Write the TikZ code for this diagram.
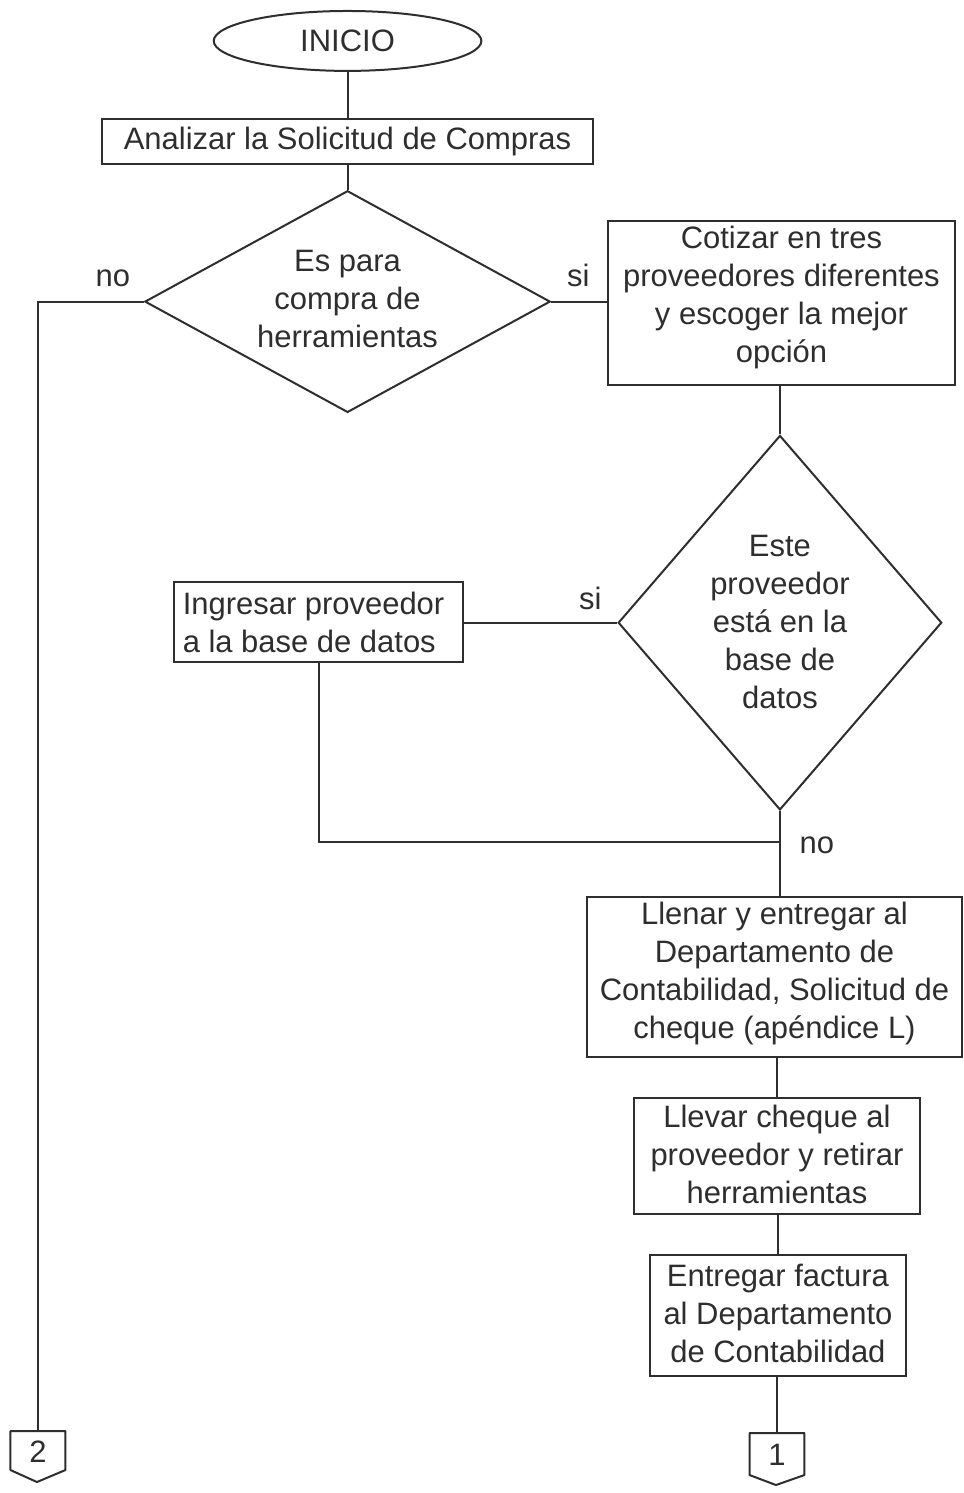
\documentclass[tikz,border=0pt]{standalone}
\usepackage{fontspec}
\setmainfont{Liberation Sans}
\usetikzlibrary{shapes.geometric}
\definecolor{ink}{HTML}{2E2E2E}
\begin{document}
\begin{tikzpicture}[x=1pt,y=-1pt,line width=2pt,
  every node/.style={text=ink,font=\fontsize{31}{38}\selectfont},
  every path/.style={draw=ink},
  box/.style={draw=ink,rectangle,inner sep=0pt,align=center},
  dia/.style={draw=ink,diamond,inner sep=0pt},
  txt/.style={align=center,inner sep=0pt},
  lbl/.style={inner sep=0pt},
  conn/.style={inner sep=0pt,minimum width=53pt}]
\useasboundingbox (0,0) rectangle (963,1493);
\fill[white] (0,0) rectangle (963,1493);
% nodes
\node[ellipse,draw=ink,inner sep=0pt,minimum width=268pt,minimum height=60pt] (inicio) at (347,40) {INICIO};
\node[box,minimum width=491pt,minimum height=45pt] (analizar) at (347,140.5) {Analizar la Solicitud de Compras};
\node[dia,minimum width=406pt,minimum height=222pt] (d1) at (347,301) {};
\node[txt] (d1t) at (347,298) {Es para\\compra de\\herramientas};
\node[box,minimum width=347pt,minimum height=165pt] (cotizar) at (781.5,302.5) {};
\node[txt] (cotizart) at (781.5,297) {Cotizar en tres\\proveedores diferentes\\y escoger la mejor\\opción};
\node[dia,minimum width=324pt,minimum height=375pt] (d2) at (780,622.5) {};
\node[txt] (d2t) at (780,622) {Este\\proveedor\\está en la\\base de\\datos};
\node[box,minimum width=290pt,minimum height=80pt] (ingresar) at (318,622) {};
\node[anchor=west,align=left,inner sep=0pt] (ingresart) at (181,622) {Ingresar proveedor\\a la base de datos};
\node[box,minimum width=375pt,minimum height=160pt] (llenar) at (774.5,977) {};
\node[txt] (llenart) at (774.5,974) {Llenar y entregar al\\Departamento de\\Contabilidad, Solicitud de\\cheque (apéndice L)};
\node[box,minimum width=286pt,minimum height=117pt] (llevar) at (777,1156.5) {};
\node[txt] (llevart) at (777,1155) {Llevar cheque al\\proveedor y retirar\\herramientas};
\node[box,minimum width=256pt,minimum height=121pt] (entregar) at (778,1316.5) {};
\node[txt] (entregart) at (778,1314) {Entregar factura\\al Departamento\\de Contabilidad};
\node[conn,minimum height=37pt] (c2) at (37,1451.5) {};
\node[lbl] (c2t) at (37,1453) {2};
\draw[line join=round] (c2.north west) -- (c2.south west) -- ++(26.5,12) -- (c2.south east) -- (c2.north east) -- cycle;
\node[conn,minimum height=40pt] (c1) at (777,1455) {};
\node[lbl] (c1t) at (777,1456) {1};
\draw[line join=round] (c1.north west) -- (c1.south west) -- ++(26.5,10) -- (c1.south east) -- (c1.north east) -- cycle;
\coordinate (j) at (780,842);
% labels
\node[lbl] (no1) at (112,278) {no};
\node[lbl] (si1) at (578,275) {si};
\node[lbl] (si2) at (590,598) {si};
\node[lbl] (no2) at (817,845) {no};
% connectors
\draw (inicio.south) -- (inicio.south |- analizar.north);
\draw (analizar.south) -- (d1.north);
\draw (d1.east) -- (cotizar.west |- d1.east);
\draw (d1.west) -| (c2.north);
\draw (d2.north |- cotizar.south) -- (d2.north);
\draw (d2.west) -- (ingresar.east |- d2.west);
\draw (ingresar.south) |- (j);
\draw (d2.south) -- (d2.south |- llenar.north);
\draw (llevar.north |- llenar.south) -- (llevar.north);
\draw (entregar.north |- llevar.south) -- (entregar.north);
\draw (c1.north |- entregar.south) -- (c1.north);
\end{tikzpicture}
\end{document}
